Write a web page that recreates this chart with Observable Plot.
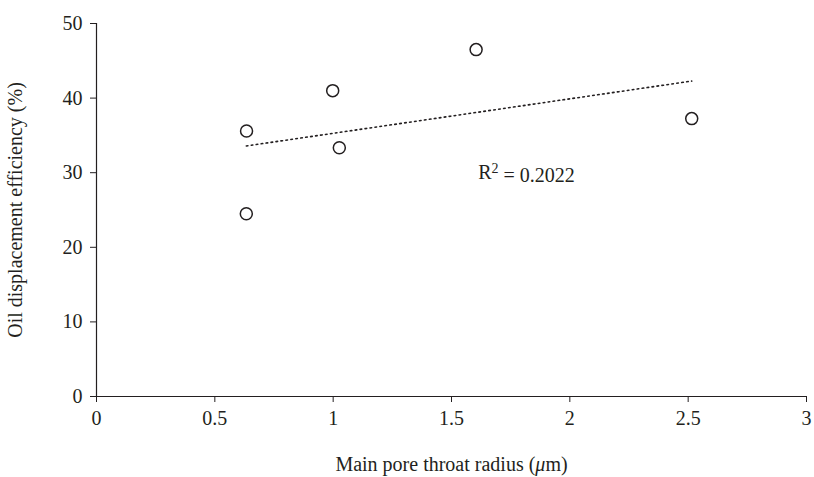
<!DOCTYPE html>
<html>
<head>
<meta charset="utf-8">
<script src="https://cdn.jsdelivr.net/npm/d3@7"></script>
<script src="https://cdn.jsdelivr.net/npm/@observablehq/plot@0.6"></script>
<style>
  html, body { margin: 0; padding: 0; background: #fff; }
  #chart { width: 814px; height: 477px; }
</style>
</head>
<body>
<div id="chart"></div>
<script>
// Data
const poreThroatRadius = [0.634, 0.633, 0.998, 1.026, 1.604, 2.515];
const displacementEfficiency = [35.6, 24.5, 41.0, 33.35, 46.5, 37.25];

const xTicks = [0, 0.5, 1, 1.5, 2, 2.5, 3];
const yTicks = [0, 10, 20, 30, 40, 50];

const xTitle = "Main pore throat radius (μm)";
const yTitle = "Oil displacement efficiency (%)";

const annotationX = [1.613];
const annotationY = [30.0];
const annotationText = ["R² = 0.2022"];

const points = poreThroatRadius.map((x, i) => ({x, y: displacementEfficiency[i]}));
const notes = annotationText.map((t, i) => ({x: annotationX[i], y: annotationY[i], t}));

const ink = "#231f20";
const font = "Liberation Serif, Times New Roman, serif";

const chart = Plot.plot({
  width: 814,
  height: 477,
  marginLeft: 96,
  marginRight: 8,
  marginTop: 23,
  marginBottom: 81,
  style: {fontFamily: font, fontSize: "20px", color: ink, background: "#fff"},
  x: {domain: [0, 3]},
  y: {domain: [0, 50]},
  marks: [
    Plot.ruleY([0], {stroke: ink, strokeWidth: 1.2}),
    Plot.ruleX([0], {stroke: ink, strokeWidth: 1.2}),
    Plot.axisX({
      ticks: xTicks, tickFormat: d => String(d), tickSize: 6, tickPadding: 8,
      stroke: ink, fill: ink, fontSize: 20,
      label: xTitle, labelAnchor: "center", labelOffset: 74, labelArrow: "none"
    }),
    Plot.axisY({
      ticks: yTicks, tickFormat: d => String(d), tickSize: 6, tickPadding: 8,
      stroke: ink, fill: ink, fontSize: 20,
      label: yTitle, labelAnchor: "center", labelOffset: 89, labelArrow: "none"
    }),
    Plot.linearRegressionY(points, {
      x: "x", y: "y", ci: 0, stroke: ink, strokeWidth: 1.6, strokeDasharray: "1.6,3.4"
    }),
    Plot.dot(points, {x: "x", y: "y", r: 6, stroke: ink, strokeWidth: 1.5, fill: "#fff"}),
    Plot.text(notes, {x: "x", y: "y", text: "t", textAnchor: "start", fill: ink, fontSize: 20})
  ]
});

document.getElementById("chart").appendChild(chart);

// Typographic touches: italic mu in x title, superscript 2 in R²
const svg = d3.select(chart);
svg.selectAll('g[aria-label="x-axis label"] text').each(function() {
  const el = d3.select(this);
  const s = el.text();
  const i = s.indexOf("μ");
  if (i < 0) return;
  el.text(null);
  el.append("tspan").text(s.slice(0, i));
  el.append("tspan").attr("font-style", "italic").text("μ");
  el.append("tspan").text(s.slice(i + 1));
});
svg.selectAll('g[aria-label="text"] text').each(function() {
  const el = d3.select(this);
  const s = el.text();
  const i = s.indexOf("²");
  if (i < 0) return;
  el.text(null);
  el.append("tspan").text(s.slice(0, i));
  el.append("tspan").attr("dy", "-0.42em").attr("font-size", "0.7em").text("2");
  el.append("tspan").attr("dy", "0.42em").text(s.slice(i + 1));
});
</script>
</body>
</html>
